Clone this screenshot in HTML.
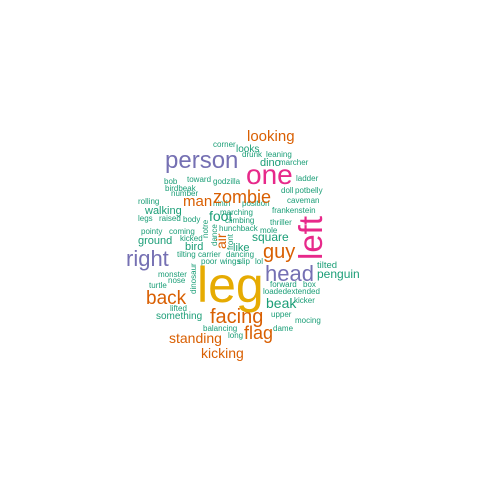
<!DOCTYPE html>
<html><head><meta charset="utf-8"><style>
html,body{margin:0;padding:0;background:#fff;}
svg text{font-family:"Liberation Sans",sans-serif;}
.g{fill:#1B9E77}.o{fill:#D95F02}.p{fill:#7570B3}.k{fill:#E7298A}.y{fill:#E6AB02}
</style></head><body>
<svg width="480" height="480" viewBox="0 0 480 480">
<rect width="480" height="480" fill="#fff"/>
<g font-size="8" class="g">
<text x="213" y="147">corner</text>
<text x="164" y="184">bob</text>
<text x="187" y="182">toward</text>
<text x="213" y="184">godzilla</text>
<text x="165" y="191">birdbeak</text>
<text x="171" y="196">number</text>
<text x="213" y="206">ninth</text>
<text x="138" y="204">rolling</text>
<text x="138" y="221">legs</text>
<text x="159" y="221">raised</text>
<text x="183" y="222">body</text>
<text x="141" y="234">pointy</text>
<text x="169" y="234">coming</text>
<text x="219" y="231">hunchback</text>
<text x="180" y="241">kicked</text>
<text x="220" y="215">marching</text>
<text x="225" y="223">climbing</text>
<text x="242" y="206">position</text>
<text x="260" y="233">mole</text>
<text x="270" y="225">thriller</text>
<text x="272" y="213">frankenstein</text>
<text x="287" y="203">caveman</text>
<text x="281" y="193">doll</text>
<text x="295" y="193">potbelly</text>
<text x="296" y="181">ladder</text>
<text x="242" y="157">drunk</text>
<text x="266" y="157">leaning</text>
<text x="279" y="165">marcher</text>
<text x="177" y="257">tilting</text>
<text x="198" y="257">carrier</text>
<text x="226" y="257">dancing</text>
<text x="201" y="264">poor</text>
<text x="220" y="264">wings</text>
<text x="238" y="264">slip</text>
<text x="255" y="264">lol</text>
<text x="158" y="277">monster</text>
<text x="168" y="283">nose</text>
<text x="149" y="288">turtle</text>
<text x="170" y="311">lifted</text>
<text x="203" y="331">balancing</text>
<text x="228" y="338">long</text>
<text x="270" y="287">forward</text>
<text x="303" y="287">box</text>
<text x="263" y="294">loaded</text>
<text x="287" y="294">extended</text>
<text x="294" y="303">kicker</text>
<text x="271" y="317">upper</text>
<text x="295" y="323">mocing</text>
<text x="273" y="331">dame</text>
<text transform="translate(208,238) rotate(-90)">notre</text>
<text transform="translate(217,246) rotate(-90)">dance</text>
<text transform="translate(233,250) rotate(-90)">front</text>
<text transform="translate(196,294) rotate(-90)">dinosaur</text>
</g>
<text x="236" y="152" font-size="10" class="g">looks</text>
<text x="260" y="166" font-size="11" class="g">dino</text>
<text x="145" y="214" font-size="11" class="g">walking</text>
<text x="138" y="244" font-size="11" class="g">ground</text>
<text x="185" y="250" font-size="11" class="g">bird</text>
<text x="209" y="221" font-size="14" class="g">foot</text>
<text x="233" y="251" font-size="11" class="g">like</text>
<text x="252" y="241" font-size="12" class="g">square</text>
<text x="317" y="268" font-size="9.5" class="g">tilted</text>
<text x="317" y="278" font-size="12" class="g">penguin</text>
<text x="266" y="308" font-size="14" class="g">beak</text>
<text x="156" y="319" font-size="10" class="g">something</text>
<text x="247" y="141" font-size="15" class="o">looking</text>
<text x="183" y="206" font-size="15" class="o">man</text>
<text x="213" y="203" font-size="18" class="o">zombie</text>
<text transform="translate(226,249) rotate(-90)" font-size="14" class="o">air</text>
<text x="263" y="258" font-size="20" class="o">guy</text>
<text x="146" y="304" font-size="19" class="o">back</text>
<text x="210" y="323" font-size="20" class="o">facing</text>
<text x="244" y="339" font-size="18" class="o">flag</text>
<text x="169" y="343" font-size="14" class="o">standing</text>
<text x="201" y="358" font-size="14" class="o">kicking</text>
<text x="165" y="168" font-size="24" class="p">person</text>
<text x="126" y="266" font-size="22" class="p">right</text>
<text x="265" y="281" font-size="22" class="p">head</text>
<text x="246" y="184" font-size="28" class="k">one</text>
<text transform="translate(322,260) rotate(-90)" font-size="33" class="k">left</text>
<text x="197" y="302" font-size="50" class="y">leg</text>
</svg>
</body></html>
